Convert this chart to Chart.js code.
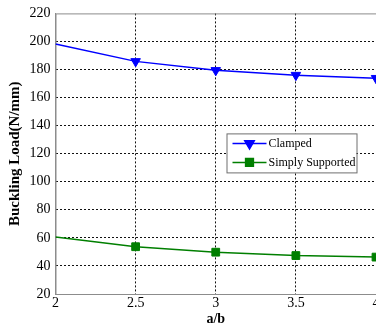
<!DOCTYPE html>
<html>
<head>
<meta charset="utf-8">
<script src="https://cdn.jsdelivr.net/npm/chart.js@4"></script>
<style>
  html, body { margin: 0; padding: 0; background: #fff; overflow: hidden; }
  #wrap { width: 390px; height: 326px; }
</style>
</head>
<body>
<div id="wrap"><canvas id="myChart"></canvas></div>
<script>
const abRatios = [2, 2.5, 3, 3.5, 4]
const clamped = [198.2, 185.8, 179.4, 176.0, 173.8]
const simplySupported = [60.7, 53.7, 49.8, 47.4, 46.3]
const seriesNames = ["Clamped", "Simply Supported"]
const xTitle = "a/b"
const yTitle = "Buckling Load(N/mm)"

const serif = "'Liberation Serif', 'Times New Roman', serif"

// grey frame round the plot area, like the matlab axes box
const frame = {
  id: "frame",
  beforeDatasetsDraw(chart) {
    const { ctx, chartArea: a } = chart
    ctx.save()
    ctx.strokeStyle = "#8c8c8c"
    ctx.lineWidth = 1
    ctx.strokeRect(a.left + 0.5, a.top + 0.5, a.right - a.left, a.bottom - a.top)
    ctx.restore()
  },
}

// legend box sitting inside the plot
const boxLegend = {
  id: "boxLegend",
  afterDatasetsDraw(chart) {
    const { ctx, chartArea: a } = chart
    const x = a.left + 171
    const y = a.top + 120
    const w = 130
    const h = 39
    ctx.save()
    ctx.fillStyle = "#fff"
    ctx.fillRect(x, y, w, h)
    ctx.strokeStyle = "#6e6e6e"
    ctx.lineWidth = 1
    ctx.strokeRect(x + 0.5, y + 0.5, w, h)
    chart.data.datasets.forEach((ds, i) => {
      const cy = y + 10 + i * 19
      ctx.strokeStyle = ds.borderColor
      ctx.lineWidth = ds.borderWidth
      ctx.beginPath()
      ctx.moveTo(x + 6, cy)
      ctx.lineTo(x + 40, cy)
      ctx.stroke()
      Chart.helpers.drawPoint(ctx, {
        pointStyle: ds.pointStyle,
        rotation: ds.pointRotation || 0,
        radius: 5.5,
        borderWidth: 1,
      }, x + 23, cy)
      ctx.fillStyle = ds.borderColor
      ctx.fill()
      ctx.fillStyle = "#000"
      ctx.font = "12px " + serif
      ctx.textBaseline = "middle"
      ctx.fillText(ds.label, x + 42, cy)
    })
    ctx.restore()
  },
}

// first point sits on the left axis and shows no marker there
const markerSize = (c) => (c.dataIndex === 0 ? 0 : 5.5)

const ctx = document.getElementById("myChart").getContext("2d")
new Chart(ctx, {
  type: "line",
  data: {
    datasets: [
      {
        label: seriesNames[0],
        data: abRatios.map((r, i) => ({ x: r, y: clamped[i] })),
        borderColor: "#0000ff",
        backgroundColor: "#0000ff",
        borderWidth: 1.5,
        pointStyle: "triangle",
        pointRotation: 180,
        pointRadius: markerSize,
        pointBorderWidth: 1,
      },
      {
        label: seriesNames[1],
        data: abRatios.map((r, i) => ({ x: r, y: simplySupported[i] })),
        borderColor: "#007f00",
        backgroundColor: "#007f00",
        borderWidth: 1.5,
        pointStyle: "rect",
        pointRadius: markerSize,
        pointBorderWidth: 1,
      },
    ],
  },
  options: {
    responsive: true,
    maintainAspectRatio: false,
    animation: false,
    layout: { padding: { left: 3, top: 12, right: 14, bottom: 0 } },
    plugins: {
      legend: { display: false },
      tooltip: { enabled: false },
    },
    scales: {
      x: {
        type: "linear",
        min: 2,
        max: 4,
        ticks: {
          stepSize: 0.5,
          color: "#000",
          padding: 2,
          font: { family: serif, size: 14, lineHeight: 1 },
          callback: (v) => String(v),
        },
        grid: {
          color: (c) => (c.tick && (c.tick.value === 2 || c.tick.value === 4) ? "rgba(0,0,0,0)" : "#111"),
          drawTicks: false,
        },
        border: { color: "#8c8c8c", dash: [2, 2] },
        title: {
          display: true,
          text: xTitle,
          color: "#000",
          padding: { top: 0, bottom: 0 },
          font: { family: serif, size: 14, weight: "bold", lineHeight: 1 },
        },
      },
      y: {
        min: 20,
        max: 220,
        ticks: { stepSize: 20, color: "#000", padding: 5, font: { family: serif, size: 14 } },
        grid: {
          color: (c) => (c.tick && (c.tick.value === 20 || c.tick.value === 220) ? "rgba(0,0,0,0)" : "#111"),
          drawTicks: false,
        },
        border: { color: "#8c8c8c", dash: [2, 2] },
        title: {
          display: true,
          text: yTitle,
          color: "#000",
          padding: { top: 4, bottom: 1 },
          font: { family: serif, size: 15, weight: "bold", lineHeight: 1.1 },
        },
      },
    },
  },
  plugins: [frame, boxLegend],
})
</script>
</body>
</html>
